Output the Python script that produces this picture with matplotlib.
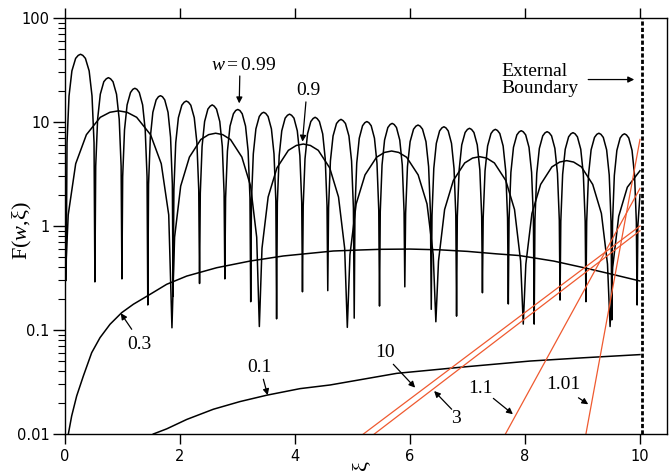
import matplotlib
matplotlib.use("Agg")
import matplotlib.pyplot as plt
from matplotlib.ticker import FixedLocator, LogLocator, NullFormatter

# w = 0.99 curve, read lobe by lobe (rise, peak, fall, dip)
W099_X = [
    0.02,
    0.035, 0.07, 0.12, 0.185, 0.23, 0.27, 0.31, 0.355, 0.42, 0.47, 0.505, 0.52,
    0.534, 0.567, 0.614, 0.675, 0.717, 0.755, 0.793, 0.835, 0.896, 0.943, 0.976, 0.99,
    1.003, 1.035, 1.08, 1.139, 1.179, 1.215, 1.251, 1.292, 1.35, 1.395, 1.427, 1.44,
    1.453, 1.484, 1.528, 1.585, 1.625, 1.66, 1.695, 1.735, 1.792, 1.836, 1.867, 1.88,
    1.894, 1.926, 1.972, 2.032, 2.073, 2.11, 2.147, 2.188, 2.248, 2.294, 2.326, 2.34,
    2.353, 2.384, 2.428, 2.485, 2.525, 2.56, 2.595, 2.635, 2.692, 2.736, 2.767, 2.78,
    2.793, 2.825, 2.87, 2.929, 2.969, 3.005, 3.041, 3.082, 3.14, 3.185, 3.217, 3.23,
    3.243, 3.275, 3.32, 3.379, 3.419, 3.455, 3.491, 3.532, 3.59, 3.635, 3.667, 3.68,
    3.693, 3.725, 3.77, 3.829, 3.869, 3.905, 3.941, 3.982, 4.04, 4.085, 4.117, 4.13,
    4.143, 4.174, 4.218, 4.275, 4.315, 4.35, 4.385, 4.425, 4.482, 4.526, 4.557, 4.57,
    4.584, 4.616, 4.662, 4.722, 4.763, 4.80, 4.837, 4.878, 4.938, 4.984, 5.016, 5.03,
    5.043, 5.074, 5.118, 5.175, 5.215, 5.25, 5.285, 5.325, 5.382, 5.426, 5.457, 5.47,
    5.483, 5.514, 5.558, 5.615, 5.655, 5.69, 5.725, 5.765, 5.822, 5.866, 5.897, 5.91,
    5.924, 5.956, 6.002, 6.062, 6.103, 6.14, 6.177, 6.218, 6.278, 6.324, 6.356, 6.37,
    6.383, 6.414, 6.458, 6.515, 6.555, 6.59, 6.625, 6.665, 6.722, 6.766, 6.797, 6.81,
    6.823, 6.855, 6.90, 6.959, 6.999, 7.035, 7.071, 7.112, 7.17, 7.215, 7.247, 7.26,
    7.273, 7.305, 7.35, 7.409, 7.449, 7.485, 7.521, 7.562, 7.62, 7.665, 7.697, 7.71,
    7.723, 7.755, 7.80, 7.859, 7.899, 7.935, 7.971, 8.012, 8.07, 8.115, 8.147, 8.16,
    8.173, 8.205, 8.25, 8.309, 8.349, 8.385, 8.421, 8.462, 8.52, 8.565, 8.597, 8.61,
    8.623, 8.655, 8.70, 8.759, 8.799, 8.835, 8.871, 8.912, 8.97, 9.015, 9.047, 9.06,
    9.073, 9.105, 9.15, 9.209, 9.249, 9.285, 9.321, 9.362, 9.42, 9.465, 9.497, 9.51,
    9.523, 9.554, 9.598, 9.655, 9.695, 9.73, 9.765, 9.805, 9.862, 9.906, 9.937, 9.95,
    9.963, 10.0,
]
W099_Y = [
    0.3,
    6.32, 17.8, 31.0, 40.9, 43.7, 44.8, 43.7, 40.9, 31.0, 17.8, 6.32, 0.29,
    3.76, 10.6, 18.5, 24.4, 26.0, 26.7, 26.0, 24.4, 18.5, 10.6, 3.76, 0.31,
    2.98, 8.40, 14.6, 19.2, 20.6, 21.1, 20.6, 19.2, 14.6, 8.40, 2.98, 0.174,
    2.52, 7.12, 12.4, 16.3, 17.5, 17.9, 17.5, 16.3, 12.4, 7.12, 2.52, 0.21,
    2.24, 6.33, 11.0, 14.5, 15.5, 15.9, 15.5, 14.5, 11.0, 6.33, 2.24, 0.28,
    2.06, 5.81, 10.1, 13.3, 14.2, 14.6, 14.2, 13.3, 10.1, 5.81, 2.06, 0.31,
    1.86, 5.25, 9.13, 12.0, 12.9, 13.2, 12.9, 12.0, 9.13, 5.25, 1.86, 0.187,
    1.75, 4.94, 8.58, 11.3, 12.1, 12.4, 12.1, 11.3, 8.58, 4.94, 1.75, 0.128,
    1.68, 4.74, 8.23, 10.9, 11.6, 11.9, 11.6, 10.9, 8.23, 4.74, 1.68, 0.233,
    1.57, 4.42, 7.68, 10.1, 10.8, 11.1, 10.8, 10.1, 7.68, 4.42, 1.57, 0.239,
    1.49, 4.22, 7.34, 9.67, 10.3, 10.6, 10.3, 9.67, 7.34, 4.22, 1.49, 0.13,
    1.42, 4.02, 6.99, 9.21, 9.85, 10.1, 9.85, 9.21, 6.99, 4.02, 1.42, 0.17,
    1.37, 3.86, 6.71, 8.85, 9.46, 9.7, 9.46, 8.85, 6.71, 3.86, 1.37, 0.26,
    1.32, 3.72, 6.47, 8.53, 9.12, 9.35, 9.12, 8.53, 6.47, 3.72, 1.32, 0.158,
    1.27, 3.58, 6.23, 8.21, 8.78, 9.0, 8.78, 8.21, 6.23, 3.58, 1.27, 0.136,
    1.23, 3.46, 6.02, 7.93, 8.48, 8.7, 8.48, 7.93, 6.02, 3.46, 1.23, 0.228,
    1.20, 3.38, 5.88, 7.75, 8.29, 8.5, 8.29, 7.75, 5.88, 3.38, 1.20, 0.178,
    1.16, 3.28, 5.71, 7.52, 8.04, 8.25, 8.04, 7.52, 5.71, 3.28, 1.16, 0.114,
    1.14, 3.21, 5.58, 7.36, 7.87, 8.07, 7.87, 7.36, 5.58, 3.21, 1.14, 0.194,
    1.11, 3.14, 5.47, 7.20, 7.70, 7.9, 7.70, 7.20, 5.47, 3.14, 1.11, 0.187,
    1.10, 3.10, 5.40, 7.11, 7.61, 7.8, 7.61, 7.11, 5.40, 3.10, 1.10, 0.125,
    1.09, 3.06, 5.33, 7.02, 7.51, 7.7, 7.51, 7.02, 5.33, 3.06, 1.09, 0.174,
    1.0, 2.0,
]

# w = 0.9 curve
W09_X = [
    0.005,
    0.056, 0.186, 0.372, 0.614, 0.781, 0.93, 1.079, 1.246, 1.488, 1.674, 1.804, 1.86,
    1.906, 2.012, 2.164, 2.362, 2.498, 2.62, 2.742, 2.878, 3.076, 3.228, 3.334, 3.38,
    3.426, 3.533, 3.686, 3.885, 4.023, 4.145, 4.267, 4.405, 4.604, 4.757, 4.864, 4.91,
    4.956, 5.064, 5.218, 5.418, 5.557, 5.68, 5.803, 5.942, 6.142, 6.296, 6.404, 6.45,
    6.496, 6.602, 6.754, 6.952, 7.088, 7.21, 7.332, 7.468, 7.666, 7.818, 7.924, 7.97,
    8.015, 8.121, 8.272, 8.468, 8.604, 8.725, 8.846, 8.982, 9.178, 9.329, 9.435, 9.48,
    9.525, 9.63, 9.78, 10.0,
]
W09_Y = [
    0.3,
    1.28, 3.97, 7.55, 11.1, 12.4, 12.8, 12.4, 11.1, 7.55, 3.97, 1.28, 0.105,
    0.78, 2.42, 4.60, 6.79, 7.56, 7.8, 7.56, 6.79, 4.60, 2.42, 0.78, 0.108,
    0.61, 1.90, 3.62, 5.34, 5.95, 6.14, 5.95, 5.34, 3.62, 1.90, 0.61, 0.106,
    0.53, 1.63, 3.10, 4.58, 5.10, 5.26, 5.10, 4.58, 3.10, 1.63, 0.53, 0.12,
    0.46, 1.44, 2.74, 4.04, 4.50, 4.64, 4.50, 4.04, 2.74, 1.44, 0.46, 0.114,
    0.43, 1.32, 2.51, 3.70, 4.12, 4.25, 4.12, 3.70, 2.51, 1.32, 0.43, 0.108,
    0.40, 1.24, 2.36, 3.4,
]

# w = 0.3 and w = 0.1 curves
W03_X = [0.058, 0.116, 0.203, 0.319, 0.464, 0.609, 0.783, 0.986, 1.19, 1.478,
         1.768, 2.117, 2.638, 3.217, 3.797, 4.667, 5.13, 5.5, 6.0, 6.52, 7.0,
         7.5, 7.9, 8.5, 9.07, 9.5, 10.0]
W03_Y = [0.01, 0.0149, 0.0232, 0.0361, 0.0605, 0.0844, 0.1135, 0.1468, 0.177,
         0.220, 0.275, 0.330, 0.397, 0.460, 0.515, 0.575, 0.588, 0.597, 0.60,
         0.59, 0.57, 0.54, 0.52, 0.46, 0.392, 0.345, 0.296]
W01_X = [1.536, 1.768, 2.117, 2.58, 3.043, 3.508, 4.087, 4.61, 5.77, 6.93,
         8.09, 9.0, 10.0]
W01_Y = [0.01, 0.0112, 0.0138, 0.0173, 0.0205, 0.0236, 0.0273, 0.0296,
         0.0383, 0.0441, 0.0503, 0.054, 0.058]

# w > 1 curves (straight on the log axis): start and end points
RED_LABELS = ["10", "3", "1.1", "1.01"]
RED_X = [[5.19, 10.0], [5.38, 10.0], [7.66, 10.0], [9.06, 10.0]]
RED_Y = [[0.01, 1.0], [0.01, 0.9], [0.01, 2.3], [0.01, 6.8]]

BOUNDARY_X = 10.03

X_TICKS = [0, 2, 4, 6, 8, 10]
Y_TICKS = [0.01, 0.1, 1, 10, 100]
Y_TICK_LABELS = ["0.01", "0.1", "1", "10", "100"]

# label text, text position, arrow tail, arrow head
NOTES = [
    (r"$\mathit{w}=\mathrm{0.99}$", (3.10, 35.3), (3.04, 27.7), (3.03, 15.1)),
    ("0.9", (4.23, 20.3), (4.19, 15.6), (4.13, 6.47)),
    ("0.3", (1.30, 0.0733), (1.16, 0.1016), (0.97, 0.145)),
    ("0.1", (3.38, 0.0434), (3.45, 0.0336), (3.525, 0.0236)),
    ("10", (5.57, 0.0605), (5.71, 0.0468), (6.09, 0.0279)),
    ("3", (6.80, 0.0140), (6.725, 0.0173), (6.42, 0.0259)),
    ("1.1", (7.22, 0.0273), (7.45, 0.0220), (7.79, 0.0155)),
    ("1.01", (8.67, 0.030), (8.93, 0.0223), (9.10, 0.0193)),
]

SERIF = "Liberation Serif"
plt.rcParams["mathtext.fontset"] = "custom"
plt.rcParams["mathtext.rm"] = SERIF
plt.rcParams["mathtext.it"] = SERIF + ":italic"

fig = plt.figure(figsize=(6.69, 4.76), dpi=100)
ax = fig.add_axes([65 / 669, 42 / 476, 602 / 669, 416 / 476])

ax.plot(W099_X, W099_Y, color="black", lw=1.1)
ax.plot(W09_X, W09_Y, color="black", lw=1.1)
ax.plot(W03_X, W03_Y, color="black", lw=1.1)
ax.plot(W01_X, W01_Y, color="black", lw=1.1)
for xs, ys in zip(RED_X, RED_Y):
    ax.plot(xs, ys, color="#ef5a30", lw=0.9)

ax.axvline(BOUNDARY_X, color="black", lw=2.0, linestyle=(0, (1.5, 0.8)))

ax.set_yscale("log")
ax.set_xlim(0, 10.47)
ax.set_ylim(0.01, 100)

ax.xaxis.set_major_locator(FixedLocator(X_TICKS))
ax.set_xticklabels([str(t) for t in X_TICKS])
ax.yaxis.set_major_locator(FixedLocator(Y_TICKS))
ax.set_yticklabels(Y_TICK_LABELS)
ax.yaxis.set_minor_locator(LogLocator(base=10, subs=range(2, 10)))
ax.yaxis.set_minor_formatter(NullFormatter())

ax.tick_params(axis="x", which="major", direction="out", length=7, width=1,
               top=True, labelsize=10.5, pad=4)
ax.tick_params(axis="y", which="major", direction="out", length=9, width=1,
               labelsize=10.5, pad=2)
ax.tick_params(axis="y", which="minor", direction="out", length=5, width=0.8)
for spine in ax.spines.values():
    spine.set_linewidth(1.0)

for text, tpos, tail, head in NOTES:
    ax.text(tpos[0], tpos[1], text, family=SERIF, fontsize=14,
            ha="center", va="center")
    ax.annotate("", xy=head, xytext=tail,
                arrowprops=dict(arrowstyle="-|>", color="black", lw=0.9,
                                mutation_scale=9, shrinkA=0, shrinkB=0))

ax.text(7.59, 25.3, "External\nBoundary", family=SERIF, fontsize=14,
        ha="left", va="center", linespacing=1.0)
ax.annotate("", xy=(9.90, 25.6), xytext=(9.10, 25.6),
            arrowprops=dict(arrowstyle="-|>", color="black", lw=0.9,
                            mutation_scale=9, shrinkA=0, shrinkB=0))

fig.text(22 / 669, 1 - 231 / 476, r"F($\mathit{w}$,ξ)", family=SERIF,
         fontsize=16, rotation=90, ha="center", va="center")
fig.text(362 / 669, 1 - 465 / 476, "ξ", family=SERIF, fontsize=16,
         rotation=90, ha="center", va="center")

fig.savefig("out.png", dpi=100)
